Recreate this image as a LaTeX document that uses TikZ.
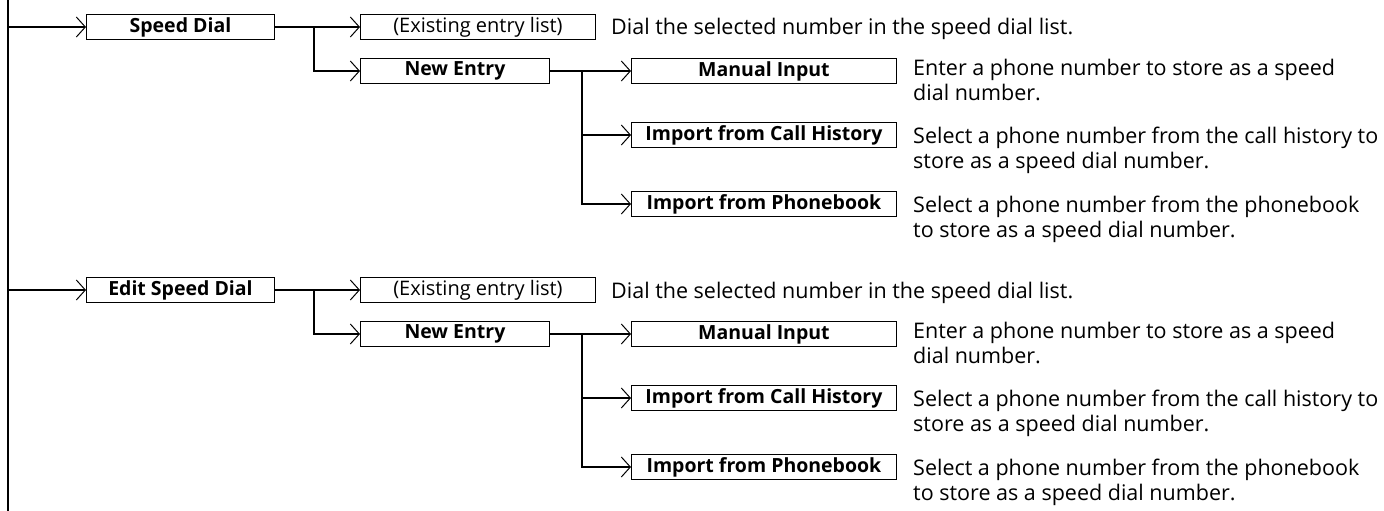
\documentclass[tikz,border=0pt]{standalone}
\usepackage{fontspec}
\setmainfont{Open Sans}
\usetikzlibrary{arrows.meta, positioning}

\tikzset{
  menubox/.style={draw, line width=0.9pt, minimum height=25pt, inner sep=0pt,
    font=\bfseries\fontsize{19.5}{22}\selectfont},
  plainbox/.style={menubox, font=\fontsize{20}{22}\selectfont},
  desc/.style={anchor=base west, align=left, inner sep=0pt,
    font=\fontsize{21.5}{25.5}\selectfont},
  link/.style={line width=2pt, -{Straight Barb[length=9pt,width=20pt,line width=1pt]}},
}

\begin{document}
\begin{tikzpicture}[x=1pt,y=-1pt]
\useasboundingbox (0,0) rectangle (1384,511);
\draw[line width=2pt] (8,0) -- (8,511);

\foreach \s/\name/\yo in {a/Speed Dial/0, b/Edit Speed Dial/263} {
  % first level
  \coordinate (spine\s) at (8,{27+\yo});
  \node[menubox, minimum width=188pt, anchor=west] (main\s) at (86,{27+\yo}) {\name};
  \node[plainbox, minimum width=235pt, anchor=west] (list\s) at (360,{27+\yo}) {(Existing entry list)};
  \node[menubox, minimum width=189pt, anchor=west] (new\s) at (360,{71+\yo}) {New Entry};
  % second level
  \node[menubox, minimum width=265pt, anchor=west] (man\s) at (631,{71+\yo}) {Manual Input};
  \node[menubox, minimum width=265pt, anchor=west] (hist\s) at (631,{135+\yo}) {Import from Call History};
  \node[menubox, minimum width=265pt, anchor=west] (book\s) at (631,{204+\yo}) {Import from Phonebook};
  % texts (base = last line)
  \node[desc] (listd\s) at (611,{35+\yo}) {Dial the selected number in the speed dial list.};
  \node[desc] (mand\s) at (913,{100.5+\yo}) {Enter a phone number to store as a speed\\dial number.};
  \node[desc] (histd\s) at (913,{168.5+\yo}) {Select a phone number from the call history to\\store as a speed dial number.};
  \node[desc] (bookd\s) at (913,{237.5+\yo}) {Select a phone number from the phonebook\\to store as a speed dial number.};
  % arrows
  \coordinate (fork\s) at (314,{27+\yo});
  \coordinate (split\s) at (582,{71+\yo});
  \draw[link] (spine\s) -- (main\s);
  \draw[link] (main\s) -- (list\s);
  \draw[link] (fork\s) |- (new\s);
  \draw[link] (new\s) -- (man\s);
  \draw[link] (split\s) |- (hist\s);
  \draw[link] (split\s) |- (book\s);
}
\end{tikzpicture}
\end{document}
